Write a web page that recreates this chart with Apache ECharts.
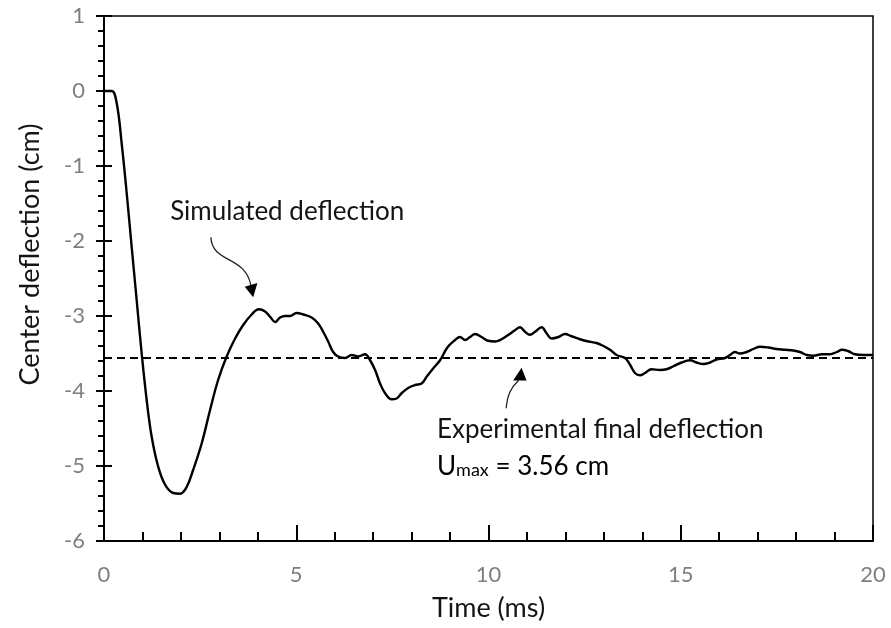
<!DOCTYPE html>
<html>
<head>
<meta charset="utf-8">
<script src="https://cdn.jsdelivr.net/npm/echarts@6/dist/echarts.min.js"></script>
<style>
  html, body { margin: 0; padding: 0; background: #fff; }
  #chart { width: 891px; height: 628px; }
</style>
</head>
<body>
<div id="chart"></div>
<script>
// Simulated plate centre deflection history: [time (ms), deflection (cm)]
const simulated = [
  [0, 0], [0.2, 0], [0.33, -0.16], [0.46, -0.70], [0.59, -1.36], [0.72, -2.08],
  [0.85, -2.79], [0.98, -3.50], [1.11, -4.12], [1.24, -4.61], [1.41, -5.01],
  [1.59, -5.25], [1.80, -5.36], [1.98, -5.37], [2.15, -5.28], [2.32, -5.05],
  [2.54, -4.70], [2.76, -4.25], [2.97, -3.85], [3.19, -3.54], [3.41, -3.30],
  [3.62, -3.12], [3.84, -2.98], [4.03, -2.91], [4.19, -2.94], [4.32, -3.01],
  [4.45, -3.08], [4.58, -3.02], [4.71, -3.00], [4.84, -3.00], [5.01, -2.96],
  [5.18, -2.98], [5.40, -3.02], [5.57, -3.10], [5.70, -3.21], [5.83, -3.34],
  [5.96, -3.48], [6.09, -3.54], [6.27, -3.56], [6.44, -3.52], [6.61, -3.54],
  [6.79, -3.51], [6.92, -3.59], [7.05, -3.72], [7.18, -3.90], [7.31, -4.03],
  [7.48, -4.11], [7.61, -4.10], [7.74, -4.03], [7.91, -3.96], [8.09, -3.92],
  [8.26, -3.90], [8.39, -3.81], [8.56, -3.70], [8.74, -3.59], [8.93, -3.42],
  [9.13, -3.32], [9.26, -3.28], [9.39, -3.32], [9.52, -3.28], [9.65, -3.24],
  [9.82, -3.28], [9.99, -3.33], [10.17, -3.34], [10.34, -3.31], [10.52, -3.25],
  [10.69, -3.19], [10.82, -3.15], [10.95, -3.21], [11.08, -3.25], [11.21, -3.21],
  [11.38, -3.15], [11.51, -3.23], [11.64, -3.30], [11.82, -3.28], [11.99, -3.24],
  [12.16, -3.27], [12.38, -3.31], [12.60, -3.34], [12.81, -3.36], [12.99, -3.40],
  [13.16, -3.45], [13.33, -3.52], [13.55, -3.56], [13.68, -3.65], [13.81, -3.76],
  [13.94, -3.79], [14.07, -3.76], [14.24, -3.71], [14.46, -3.72], [14.63, -3.71],
  [14.81, -3.67], [15.02, -3.62], [15.24, -3.59], [15.41, -3.62], [15.59, -3.64],
  [15.76, -3.62], [15.93, -3.58], [16.15, -3.56], [16.28, -3.52], [16.41, -3.48],
  [16.54, -3.50], [16.71, -3.48], [16.89, -3.44], [17.06, -3.41], [17.28, -3.42],
  [17.49, -3.44], [17.71, -3.45], [17.93, -3.46], [18.10, -3.48], [18.28, -3.52],
  [18.45, -3.53], [18.67, -3.51], [18.88, -3.51], [19.06, -3.48], [19.19, -3.45],
  [19.36, -3.47], [19.53, -3.51], [19.75, -3.52], [20.0, -3.52]
];

// Measured final deflection (Umax = 3.56 cm), drawn across the whole time span
const experimentalFinal = -3.56;
const timeRange = [0, 20];
const deflectionRange = [-6, 1];

const FONT = 'Lato, "Open Sans", sans-serif';
const LABEL_GREY = '#7f7f7f';
const TEXT_DARK = '#141414';

const chart = echarts.init(document.getElementById('chart'), null, { renderer: 'canvas' });

const yBase = {
  type: 'value',
  min: deflectionRange[0],
  max: deflectionRange[1],
  interval: 1,
  splitLine: { show: false }
};

chart.setOption({
  animation: false,
  backgroundColor: '#ffffff',
  grid: {
    left: 104, right: 18, top: 16, bottom: 87,
    show: true, borderColor: '#000', borderWidth: 1.5,
    backgroundColor: 'transparent'
  },
  xAxis: {
    type: 'value',
    min: timeRange[0],
    max: timeRange[1],
    interval: 5,
    name: 'Time (ms)',
    nameLocation: 'middle',
    nameGap: 54,
    nameTextStyle: { fontFamily: FONT, fontSize: 27, color: TEXT_DARK },
    axisLine: { onZero: false, lineStyle: { color: '#000', width: 2 } },
    axisTick: { inside: true, length: 16, lineStyle: { color: '#000', width: 2 } },
    minorTick: { show: true, splitNumber: 5, length: 9, lineStyle: { color: '#000', width: 2 } },
    axisLabel: { margin: 23, fontFamily: FONT, fontSize: 22, color: LABEL_GREY },
    splitLine: { show: false }
  },
  yAxis: [
    Object.assign({}, yBase, {
      axisLine: { onZero: false, lineStyle: { color: '#000', width: 2 } },
      axisTick: { length: 8, lineStyle: { color: '#000', width: 2 } },
      minorTick: { show: true, splitNumber: 5, length: 6, lineStyle: { color: '#000', width: 2 } },
      axisLabel: { margin: 19, fontFamily: FONT, fontSize: 22, color: LABEL_GREY }
    }),
    // inner half of the crossing major ticks
    Object.assign({}, yBase, {
      position: 'left',
      axisLine: { show: false },
      axisTick: { inside: true, length: 8, lineStyle: { color: '#000', width: 2 } },
      minorTick: { show: false },
      axisLabel: { show: false }
    })
  ],
  series: [
    {
      name: 'Simulated deflection',
      type: 'line',
      data: simulated,
      showSymbol: false,
      smooth: 0.4,
      lineStyle: { color: '#000', width: 2.4 },
      z: 3
    },
    {
      name: 'Experimental final deflection',
      type: 'line',
      data: timeRange.map(t => [t, experimentalFinal]),
      showSymbol: false,
      lineStyle: { color: '#000', width: 2, type: [8, 5] },
      z: 2
    }
  ]
});

// Annotations placed in data coordinates and converted to pixels
const px = (p) => chart.convertToPixel({ gridIndex: 0 }, p);

function curvedArrow(path, head) {
  const [p0, c1, c2, p3] = path.map(px);
  return [
    {
      type: 'bezierCurve',
      shape: { x1: p0[0], y1: p0[1], cpx1: c1[0], cpy1: c1[1], cpx2: c2[0], cpy2: c2[1], x2: p3[0], y2: p3[1] },
      style: { stroke: '#222', lineWidth: 1.3, fill: null },
      z: 10
    },
    {
      type: 'polygon',
      shape: { points: head.map(px) },
      style: { fill: '#000' },
      z: 10
    }
  ];
}

const textStyle = { fontFamily: FONT, fontSize: 26, fill: TEXT_DARK };
const simLabelPos = px([1.72, -1.61]);
const expLabelPos = px([8.66, -4.52]);
const umaxLabelPos = px([8.66, -5.01]);
// vertical axis title, centred a little above the middle of the plot
const yTitlePos = [30, px([0, -2.18])[1]];

chart.setOption({
  graphic: [
    {
      type: 'text', x: yTitlePos[0], y: yTitlePos[1], rotation: Math.PI / 2, z: 10,
      style: {
        text: 'Center deflection (cm)', align: 'center', verticalAlign: 'middle',
        fontFamily: FONT, fontSize: 27, fill: TEXT_DARK
      }
    },
    {
      type: 'text', x: simLabelPos[0], y: simLabelPos[1], z: 10,
      style: Object.assign({ text: 'Simulated deflection', verticalAlign: 'middle' }, textStyle)
    },
    {
      type: 'text', x: expLabelPos[0], y: expLabelPos[1], z: 10,
      style: Object.assign({ text: 'Experimental final deflection', verticalAlign: 'middle' }, textStyle)
    },
    {
      type: 'text', x: umaxLabelPos[0], y: umaxLabelPos[1], z: 10,
      style: {
        text: '{u|U}{s|max}{u| = 3.56 cm}',
        verticalAlign: 'middle',
        rich: {
          u: { fontFamily: FONT, fontSize: 26, color: TEXT_DARK, verticalAlign: 'bottom' },
          s: { fontFamily: FONT, fontSize: 18, color: TEXT_DARK, verticalAlign: 'bottom', padding: [0, 0, 1, 0] }
        }
      }
    },
    ...curvedArrow(
      [[2.78, -1.95], [2.81, -2.30], [3.67, -2.19], [3.82, -2.59]],
      [[3.88, -2.75], [3.66, -2.61], [3.99, -2.56]]
    ),
    ...curvedArrow(
      [[10.46, -4.23], [10.49, -4.06], [10.57, -3.96], [10.78, -3.86]],
      [[10.86, -3.69], [10.64, -3.86], [10.99, -3.86]]
    )
  ]
});
</script>
</body>
</html>
